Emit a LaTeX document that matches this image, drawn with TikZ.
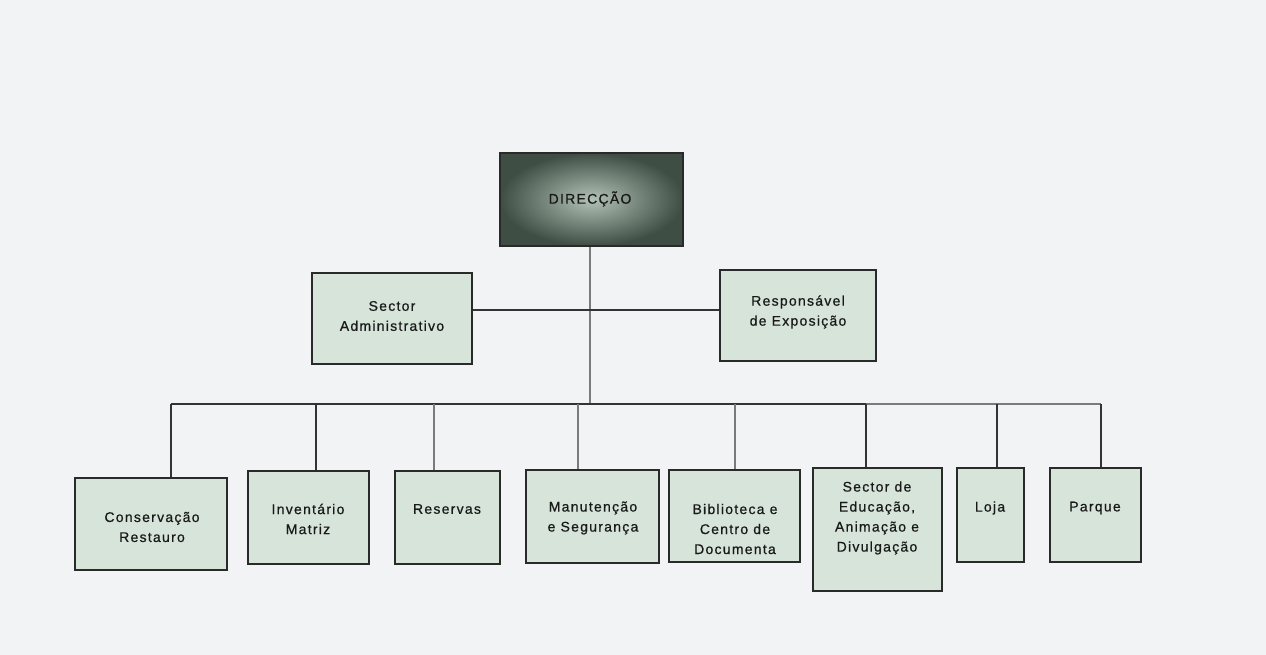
\documentclass[tikz,border=0pt]{standalone}
\usepackage{fontspec}
\setmainfont{Liberation Sans}[LetterSpace=9,FakeBold=0.6]
\definecolor{bg}{HTML}{F2F3F5}
\definecolor{boxfill}{HTML}{D6E4D9}
\definecolor{boxline}{HTML}{2A2A2A}
\definecolor{lineD}{HTML}{333333}
\definecolor{lineG}{HTML}{7A7A7A}
\definecolor{dirin}{HTML}{B3C2B6}
\definecolor{dirout}{HTML}{3E4E44}
\begin{document}
\begin{tikzpicture}[x=1pt,y=-1pt,
  unit/.style={draw=boxline,line width=1.6pt,fill=boxfill,inner sep=0pt},
  lbl/.style={align=center,font=\fontsize{14}{20}\selectfont,text=black!90,inner sep=0pt},
  conn/.style={draw=lineD,line width=1.5pt},
  conng/.style={draw=lineG,line width=1.5pt}]
\fill[bg] (0,0) rectangle (1266,655);
\useasboundingbox (0,0) rectangle (1266,655);
% top
\node[draw=boxline,line width=1.8pt,shading=radial,inner color=dirin,outer color=dirout,
  minimum width=183pt,minimum height=93pt] (dir) at (591.5,199.5) {};
\node[lbl] (tdir) at (590,199) {DIRECÇÃO};
% second level
\node[unit,minimum width=160pt,minimum height=91pt] (sa) at (392,318.5) {};
\node[lbl] (tsa) at (392,316) {Sector\\Administrativo};
\node[unit,minimum width=156pt,minimum height=91pt] (re) at (798,315.5) {};
\node[lbl] (tre) at (798,312) {Responsável\\de Exposição};
% bottom level
\node[unit,minimum width=152pt,minimum height=92pt] (b1) at (151,524) {};
\node[lbl] (t1) at (152,527) {Conservação\\Restauro};
\node[unit,minimum width=121pt,minimum height=93pt] (b2) at (308.5,517.5) {};
\node[lbl] (t2) at (308,519) {Inventário\\Matriz};
\node[unit,minimum width=105pt,minimum height=93pt] (b3) at (447.5,517.5) {};
\node[lbl] (t3) at (447,509) {Reservas};
\node[unit,minimum width=133pt,minimum height=93pt] (b4) at (592.5,516.5) {};
\node[lbl] (t4) at (593,518) {Manutenção\\e Segurança};
\node[unit,minimum width=131pt,minimum height=92pt] (b5) at (734.5,516) {};
\node[lbl] (t5) at (735,529) {Biblioteca e\\Centro de\\Documenta};
\node[unit,minimum width=129pt,minimum height=123pt] (b6) at (877.5,529.5) {};
\node[lbl] (t6) at (877,518) {Sector de\\Educação,\\Animação e\\Divulgação};
\node[unit,minimum width=67pt,minimum height=94pt] (b7) at (990.5,515) {};
\node[lbl] (t7) at (990,508) {Loja};
\node[unit,minimum width=91pt,minimum height=94pt] (b8) at (1095.5,515) {};
\node[lbl] (t8) at (1095,508) {Parque};
% junctions
\coordinate (j) at (590,404);
\coordinate (m) at (590,310);
\coordinate (d1) at (171,404);
\coordinate (d2) at (316,404);
\coordinate (d3) at (434,404);
\coordinate (d4) at (578,404);
\coordinate (d5) at (735,404);
\coordinate (d6) at (866,404);
\coordinate (d7) at (997,404);
\coordinate (d8) at (1101,404);
% connectors
\draw[conng] (j |- dir.south) -- (j);
\draw[conn] (sa.east |- m) -- (re.west |- m);
\draw[conn] (d1) -- (d6);
\draw[conng] (d6) -- (d8);
\draw[conn] (d1) -- (d1 |- b1.north);
\draw[conn] (d2) -- (d2 |- b2.north);
\draw[conng] (d3) -- (d3 |- b3.north);
\draw[conng] (d4) -- (d4 |- b4.north);
\draw[conng] (d5) -- (d5 |- b5.north);
\draw[conn] (d6) -- (d6 |- b6.north);
\draw[conn] (d7) -- (d7 |- b7.north);
\draw[conn] (d8) -- (d8 |- b8.north);
\end{tikzpicture}
\end{document}
